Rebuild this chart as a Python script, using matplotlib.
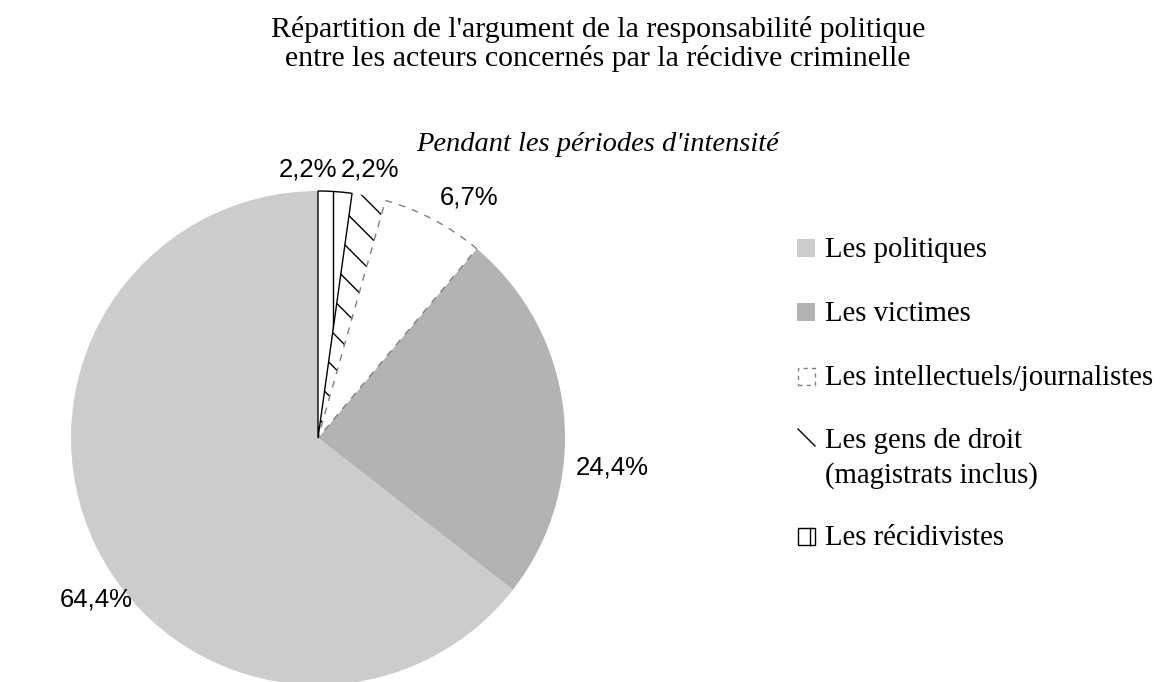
import matplotlib
matplotlib.use("Agg")
import matplotlib.pyplot as plt
from matplotlib.patches import Rectangle
from matplotlib.lines import Line2D

# ---- data ----
categories = ["Les récidivistes", "Les gens de droit\n(magistrats inclus)",
              "Les intellectuels/journalistes", "Les victimes", "Les politiques"]
values = [2.2, 2.2, 6.7, 24.4, 64.4]
value_labels = ["2,2%", "2,2%", "6,7%", "24,4%", "64,4%"]
legend_order = [4, 3, 2, 1, 0]

title_lines = ["Répartition de l'argument de la responsabilité politique",
               "entre les acteurs concernés par la récidive criminelle"]
subtitle = "Pendant les périodes d'intensité"

# ---- layout (pixels, y from top) ----
W, H = 1160, 682
PIE_CX, PIE_CY, PIE_R = 318, 438, 247
LABEL_POS = [(308, 170), (370, 170), (469, 197), (612, 467), (96, 600)]
LEG_X_BOX, LEG_X_TXT, LEG_BOX = 797, 825, 18
LEG_BASELINES = [257, 321, 385, 448, 545]
TITLE_CX = 598

fig = plt.figure(figsize=(W / 100, H / 100), dpi=100)
ax = fig.add_axes([0, 0, 1, 1])

def Y(y):
    return H - y

wedges, _ = ax.pie(values, startangle=90, counterclock=False,
                   center=(PIE_CX, Y(PIE_CY)), radius=PIE_R,
                   colors=["white", "white", "white", "#b3b3b3", "#cccccc"],
                   wedgeprops=dict(linewidth=0))

# récidivistes: white, black edge, one vertical pattern line
wedges[0].set_edgecolor("black")
wedges[0].set_linewidth(1.0)
wedges[0].set_zorder(4)
vline = Line2D([PIE_CX + 15, PIE_CX + 15], [Y(PIE_CY), Y(PIE_CY - PIE_R - 5)],
               color="black", linewidth=1.0, zorder=5)
ax.add_line(vline)
vline.set_clip_path(wedges[0])
# gens de droit: diagonal hatch, no outline
wedges[1].set_edgecolor("black")
wedges[1].set_linewidth(0)
wedges[1].set_hatch("\\")
# intellectuels: dashed grey outline
wedges[2].set_edgecolor("#808080")
wedges[2].set_linewidth(1.0)
wedges[2].set_linestyle((0, (5, 5)))
wedges[2].set_zorder(3)

ax.set_xlim(0, W)
ax.set_ylim(0, H)
ax.set_aspect("equal")
ax.axis("off")

sans = ["Liberation Sans", "DejaVu Sans"]
serif = ["Liberation Serif", "DejaVu Serif"]

for lab, (x, y) in zip(value_labels, LABEL_POS):
    ax.text(x, Y(y), lab, ha="center", va="center", fontsize=18.5, family=sans)

# titles
ax.text(TITLE_CX, Y(37), title_lines[0], ha="center", va="baseline", fontsize=21.5, family=serif)
ax.text(TITLE_CX, Y(66), title_lines[1], ha="center", va="baseline", fontsize=21.5, family=serif)
ax.text(TITLE_CX, Y(151), subtitle, ha="center", va="baseline", fontsize=20.5, family=serif, style="italic")

# legend
for i, idx in enumerate(legend_order):
    base = LEG_BASELINES[i]
    x0, y0 = LEG_X_BOX, Y(base)
    if idx == 4:
        ax.add_patch(Rectangle((x0, y0), LEG_BOX, LEG_BOX, facecolor="#cccccc", edgecolor="none"))
    elif idx == 3:
        ax.add_patch(Rectangle((x0, y0), LEG_BOX, LEG_BOX, facecolor="#b3b3b3", edgecolor="none"))
    elif idx == 2:
        ax.add_patch(Rectangle((x0 + 0.5, y0 + 0.5), LEG_BOX - 1, LEG_BOX - 1, facecolor="white",
                               edgecolor="#808080", linewidth=1.0, linestyle=(0, (3, 3))))
    elif idx == 1:
        ax.add_line(Line2D([x0 + 1, x0 + LEG_BOX], [y0 + LEG_BOX + 1, y0 + 2], color="black", linewidth=1.0))
    else:
        ax.add_patch(Rectangle((x0 + 0.5, y0 + 0.5), LEG_BOX - 1, LEG_BOX - 1, facecolor="white",
                               edgecolor="black", linewidth=1.0))
        ax.add_line(Line2D([x0 + 13, x0 + 13], [y0 + 0.5, y0 + LEG_BOX - 0.5], color="black", linewidth=1.0))
    lines = categories[idx].split("\n")
    for j, line in enumerate(lines):
        ax.text(LEG_X_TXT, Y(base + 35 * j), line, ha="left", va="baseline",
                fontsize=20.7, family=serif)

fig.savefig("out.png", dpi=100, facecolor="white")
